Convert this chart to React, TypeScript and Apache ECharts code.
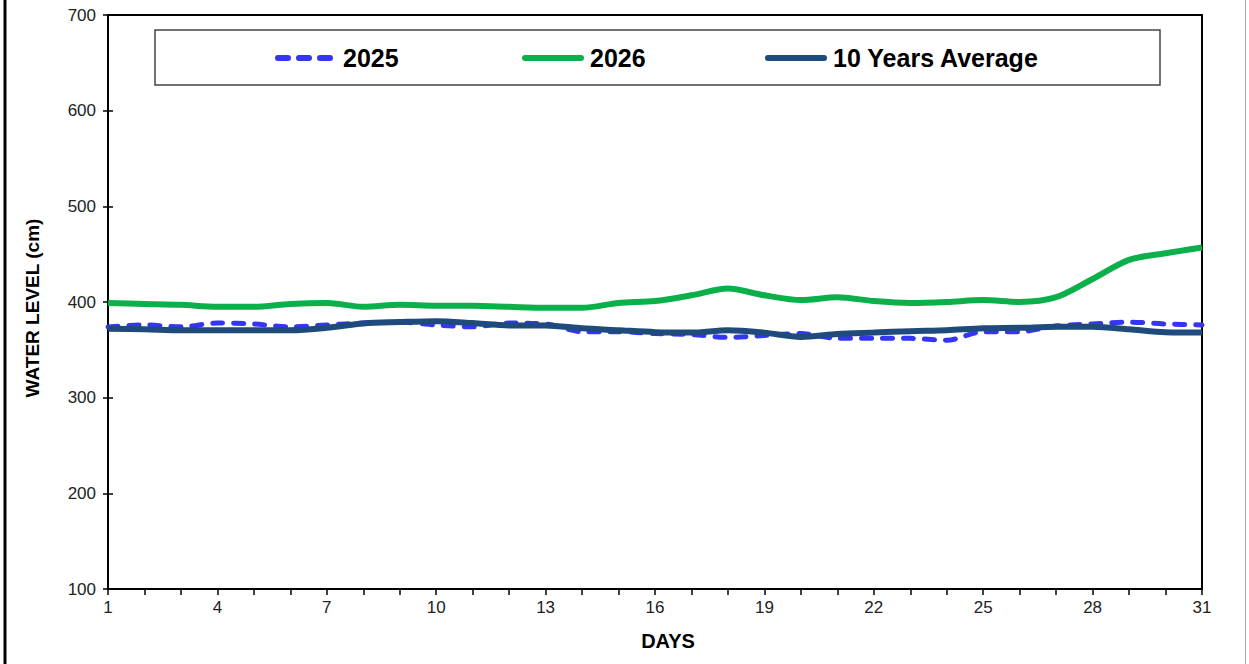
import React, { useEffect, useRef } from "react";
import * as echarts from "echarts";

const days: string[] = Array.from({ length: 31 }, (_, i) => String(i + 1));

const y2025: number[] = [
  374, 376, 374, 378, 377, 374, 376, 378, 379, 376,
  374, 378, 377, 369, 369, 367, 366, 363, 365, 367,
  362, 362, 362, 360, 369, 369, 375, 377, 379, 377, 376,
];

const y2026: number[] = [
  399, 398, 397, 395, 395, 398, 399, 395, 397, 396,
  396, 395, 394, 394, 399, 401, 407, 414, 407, 402,
  405, 401, 399, 400, 402, 400, 405, 424, 444, 451, 457,
];

const avg10: number[] = [
  372, 371.5, 370.5, 370.5, 370.5, 370.5, 373, 377.5, 379, 380,
  378, 375.5, 375.5, 372.5, 370.5, 368.5, 368, 370.5, 368, 363.5,
  366.5, 368, 369.5, 370.5, 372.5, 373, 374, 374, 371.5, 368.5, 368,
];

const seriesNames: string[] = ["2025", "2026", "10 Years Average"];

const yTicks = { min: 100, max: 700, interval: 100 };

const FONT = "'Liberation Sans', Arial, sans-serif";
const C2025 = "#3535F5";
const C2026 = "#0BB04B";
const CAVG = "#1F4A7C";

export default function App() {
  const ref = useRef<HTMLDivElement>(null);

  useEffect(() => {
    if (!ref.current) return;
    const chart = echarts.init(ref.current, undefined, { renderer: "svg" });

    const legendX = [275, 522, 765];
    const legendColors = [C2025, C2026, CAVG];
    const legendGraphics: any[] = [];
    seriesNames.forEach((name, i) => {
      const x = legendX[i];
      legendGraphics.push({
        type: "line",
        shape: { x1: x + 3, y1: 58, x2: x + 59, y2: 58 },
        style: {
          stroke: legendColors[i],
          lineWidth: 6,
          lineCap: "round",
          lineDash: i === 0 ? [10, 11] : null,
        },
        z: 11,
      });
      legendGraphics.push({
        type: "text",
        x: x + 68,
        y: 58,
        style: {
          text: name,
          fontSize: 25,
          fontWeight: "bold",
          fill: "#000",
          fontFamily: FONT,
          align: "left",
          verticalAlign: "middle",
        },
        z: 11,
      });
    });

    chart.setOption({
      animation: false,
      backgroundColor: "#fff",
      grid: {
        left: 108,
        right: 47,
        top: 15,
        bottom: 75,
        show: true,
        borderColor: "#000",
        borderWidth: 2,
        backgroundColor: "transparent",
      },
      xAxis: {
        type: "category",
        data: days,
        boundaryGap: false,
        axisLine: { show: true, lineStyle: { color: "#000", width: 2 } },
        axisTick: {
          show: true,
          interval: 0,
          length: 6,
          alignWithLabel: true,
          lineStyle: { color: "#000", width: 1.5 },
        },
        axisLabel: {
          interval: 2,
          margin: 10,
          fontSize: 17,
          color: "#222",
          fontFamily: FONT,
        },
        splitLine: { show: false },
      },
      yAxis: [
        {
          type: "value",
          min: yTicks.min,
          max: yTicks.max,
          interval: yTicks.interval,
          axisLine: { show: true, lineStyle: { color: "#000", width: 2 } },
          axisTick: { show: true, length: 5, lineStyle: { color: "#000", width: 1.5 } },
          axisLabel: {
            margin: 12,
            fontSize: 17,
            color: "#222",
            fontFamily: FONT,
          },
          splitLine: { show: false },
        },
        {
          type: "value",
          position: "left",
          min: yTicks.min,
          max: yTicks.max,
          interval: yTicks.interval,
          axisLine: { show: false },
          axisTick: {
            show: true,
            inside: true,
            length: 5,
            lineStyle: { color: "#000", width: 1.5 },
          },
          axisLabel: { show: false },
          splitLine: { show: false },
        },
      ],
      series: [
        {
          name: seriesNames[0],
          type: "line",
          data: y2025,
          smooth: 0.3,
          symbol: "none",
          showSymbol: false,
          color: C2025,
          lineStyle: { color: C2025, width: 5, type: [10, 11], cap: "round" },
          z: 2,
        },
        {
          name: seriesNames[1],
          type: "line",
          data: y2026,
          smooth: 0.3,
          symbol: "none",
          showSymbol: false,
          color: C2026,
          lineStyle: { color: C2026, width: 6 },
          z: 3,
        },
        {
          name: seriesNames[2],
          type: "line",
          data: avg10,
          smooth: 0.3,
          symbol: "none",
          showSymbol: false,
          color: CAVG,
          lineStyle: { color: CAVG, width: 6 },
          z: 4,
        },
      ],
      graphic: [
        {
          type: "rect",
          shape: { x: 155, y: 30, width: 1005, height: 55 },
          style: { fill: "#fff", stroke: "#444", lineWidth: 1.5 },
          z: 10,
        },
        ...legendGraphics,
        {
          type: "line",
          shape: { x1: 5, y1: 0, x2: 5, y2: 664 },
          style: { stroke: "#000", lineWidth: 3 },
        },
        {
          type: "line",
          shape: { x1: 1245.5, y1: 0, x2: 1245.5, y2: 664 },
          style: { stroke: "#aaa", lineWidth: 1 },
        },
        {
          type: "text",
          x: 32,
          y: 308,
          rotation: Math.PI / 2,
          style: {
            text: "WATER LEVEL (cm)",
            fontSize: 19,
            fontWeight: "bold",
            fill: "#000",
            fontFamily: FONT,
            align: "center",
            verticalAlign: "middle",
          },
        },
        {
          type: "text",
          x: 668,
          y: 641,
          style: {
            text: "DAYS",
            fontSize: 20,
            fontWeight: "bold",
            fill: "#000",
            fontFamily: FONT,
            align: "center",
            verticalAlign: "middle",
          },
        },
      ],
    });
    return () => chart.dispose();
  }, []);

  return (
    <div
      ref={ref}
      style={{ position: "fixed", left: 0, top: 0, width: 1249, height: 664 }}
    />
  );
}
